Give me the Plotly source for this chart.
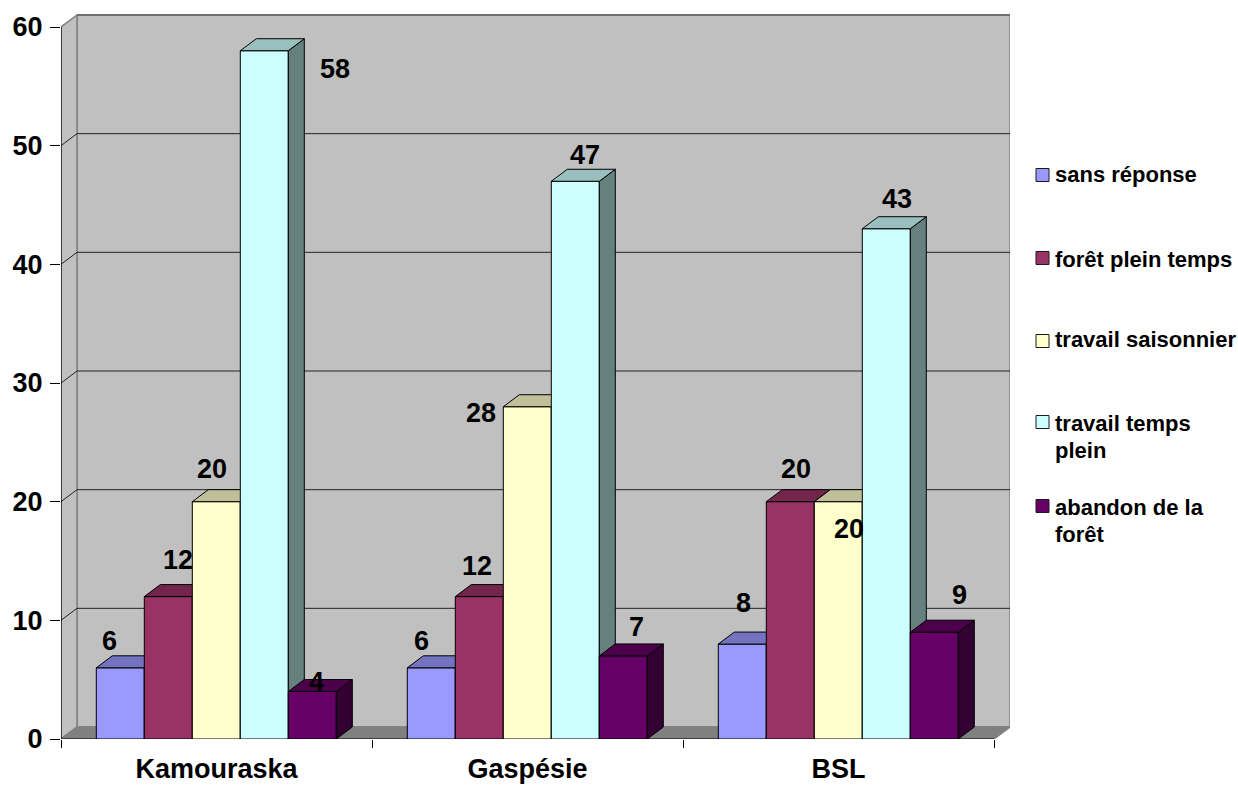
import plotly.graph_objects as go

categories = ["Kamouraska", "Gaspésie", "BSL"]
series_names = ["sans réponse", "forêt plein temps", "travail saisonnier",
                "travail temps<br>plein", "abandon de la<br>forêt"]
sans_reponse = [6, 6, 8]
foret_plein_temps = [12, 12, 20]
travail_saisonnier = [20, 28, 20]
travail_temps_plein = [58, 47, 43]
abandon_foret = [4, 7, 9]
series_values = [sans_reponse, foret_plein_temps, travail_saisonnier,
                 travail_temps_plein, abandon_foret]
y_ticks = [0, 10, 20, 30, 40, 50, 60]

front_colors = [(0x99, 0x99, 0xFF), (0x99, 0x33, 0x66), (0xFF, 0xFF, 0xCC),
                (0xCC, 0xFF, 0xFF), (0x66, 0x00, 0x66)]

# label nudges in pixels from the bar's front-top centre, per series then category
label_dx = [[-11, -10, 1], [10, -2, 6], [-4, -46, 11], [71, 10, 11], [4, 13, 25]]
label_dy = [[27, 27, 41], [37, 31, 33], [33, -6, -27], [-18, 26, 30], [10, 29, 37]]

# legend layout, in pixels from the top of the page
legend_swatch_y = [175, 258, 341, 422, 506]
legend_text_y = [[174], [259], [339], [423, 450], [507, 534]]

FONT = "Liberation Sans"
W, H = 1238, 785
L, R, T, B = 61, 1010, 12, 739
PX_X = (994 - 61) / 3        # pixels per category
PX_Y = (739 - 27) / 60       # pixels per value unit
DX = 16 / PX_X               # depth offset, x units
DY = 12 / PX_Y               # depth offset, y units
BAR_W = 48 / PX_X
GROUP_START = 0.1135
XR = [0, (R - L) / PX_X]
YR = [0, (B - T) / PX_Y]
N = len(categories)


def rgb(c, f=1.0):
    return "rgb(%d,%d,%d)" % tuple(round(v * f) for v in c)


def paper_x(px):
    return (px - L) / (R - L)


def paper_y(py):
    return (B - py) / (B - T)


fig = go.Figure()


def wall(xs, ys, color):
    fig.add_trace(go.Scatter(x=xs, y=ys, mode="lines", fill="toself", fillcolor=color,
                             line=dict(color="#808080", width=1.5), hoverinfo="skip",
                             showlegend=False, cliponaxis=False))


def rule(xs, ys, color="#222222", width=1):
    fig.add_trace(go.Scatter(x=xs, y=ys, mode="lines", line=dict(color=color, width=width),
                             hoverinfo="skip", showlegend=False, cliponaxis=False))


top = y_ticks[-1]
wall([DX, DX, N + DX, N + DX, DX], [DY, top + DY, top + DY, DY, DY], "#C0C0C0")
wall([0, 0, DX, DX, 0], [0, top, top + DY, DY, 0], "#C0C0C0")
wall([0, N, N + DX, DX, 0], [0, 0, DY, DY, 0], "#808080")
for t in y_ticks[1:-1]:
    rule([0, DX, N + DX], [t, t + DY, t + DY])
rule([0, DX], [top, top + DY], "#808080")
rule([DX, N + DX], [top + DY, top + DY], "#707070", 2)
rule([0, 0], [0, top], "#000000", 1.2)
rule([0, N], [0, 0], "#000000", 1.2)

label_font = dict(family=FONT, size=27, color="#000000", weight="bold")
legend_font = dict(family=FONT, size=22, color="#000000", weight="bold")

for i, (name, vals, col) in enumerate(zip(series_names, series_values, front_colors)):
    ax = str(i + 2)
    xref, yref = "x" + ax, "y" + ax
    lefts = [k + GROUP_START + BAR_W * i for k in range(N)]
    centers = [l + BAR_W / 2 for l in lefts]
    fig.add_trace(go.Bar(x=centers, y=vals, width=BAR_W, name=name, showlegend=False,
                         marker=dict(color=rgb(col), line=dict(color="#000000", width=1)),
                         xaxis=xref, yaxis=yref, hoverinfo="skip"))
    side_x, side_y, top_x, top_y = [], [], [], []
    for l, v in zip(lefts, vals):
        r = l + BAR_W
        side_x += [r, r + DX, r + DX, r, r, None]
        side_y += [0, DY, v + DY, v, 0, None]
        top_x += [l, l + DX, r + DX, r, l, None]
        top_y += [v, v + DY, v + DY, v, v, None]
    for fx, fy, f in ((side_x, side_y, 0.5), (top_x, top_y, 0.75)):
        fig.add_trace(go.Scatter(x=fx, y=fy, mode="lines", fill="toself", fillcolor=rgb(col, f),
                                 line=dict(color="#000000", width=1), hoverinfo="skip",
                                 showlegend=False, xaxis=xref, yaxis=yref))
    for k in range(N):
        fig.add_annotation(x=centers[k], y=vals[k], xref="x", yref="y",
                           text=str(vals[k]), showarrow=False,
                           xshift=label_dx[i][k], yshift=label_dy[i][k], font=label_font)
    # legend entry
    sy = legend_swatch_y[i]
    fig.add_shape(type="rect", xref="paper", yref="paper",
                  x0=paper_x(1036), x1=paper_x(1049), y0=paper_y(sy + 6.5), y1=paper_y(sy - 6.5),
                  fillcolor=rgb(col), line=dict(color="#1a1a1a", width=1), layer="above")
    for line_text, ly in zip(name.split("<br>"), legend_text_y[i]):
        fig.add_annotation(x=paper_x(1054), y=paper_y(ly), xref="paper", yref="paper",
                           xanchor="left", yanchor="middle", text=line_text,
                           showarrow=False, font=legend_font, borderpad=0)

layout_axes = {}
for i in range(len(series_names)):
    ax = str(i + 2)
    layout_axes["xaxis" + ax] = dict(overlaying="x", range=XR, visible=False, fixedrange=True)
    layout_axes["yaxis" + ax] = dict(overlaying="y", range=YR, visible=False, fixedrange=True)

fig.update_layout(
    width=W, height=H,
    margin=dict(l=L, r=W - R, t=T, b=H - B, autoexpand=False),
    paper_bgcolor="#FFFFFF", plot_bgcolor="rgba(0,0,0,0)",
    font=dict(family=FONT, color="#000000"),
    barmode="overlay",
    showlegend=False,
    xaxis=dict(range=XR, tickmode="array",
               tickvals=[k + 0.5 for k in range(N)], ticktext=categories,
               ticks="", showgrid=False, zeroline=False, showline=False, fixedrange=True,
               ticklabelstandoff=11,
               tickfont=dict(family=FONT, size=27, color="#000000", weight="bold"),
               minor=dict(tickmode="array", tickvals=list(range(N + 1)), ticks="outside",
                          ticklen=8, tickwidth=1, tickcolor="#000000", showgrid=False)),
    yaxis=dict(range=YR, tickmode="array", tickvals=y_ticks, ticks="outside",
               ticklen=10, tickwidth=1, tickcolor="#000000", showgrid=False,
               zeroline=False, showline=False, fixedrange=True, ticklabelstandoff=2,
               tickfont=dict(family=FONT, size=27, color="#000000", weight="bold")),
    **layout_axes,
)

fig.write_html("out.html", config={"displayModeBar": False},
               post_script="document.body.style.margin='0';")
